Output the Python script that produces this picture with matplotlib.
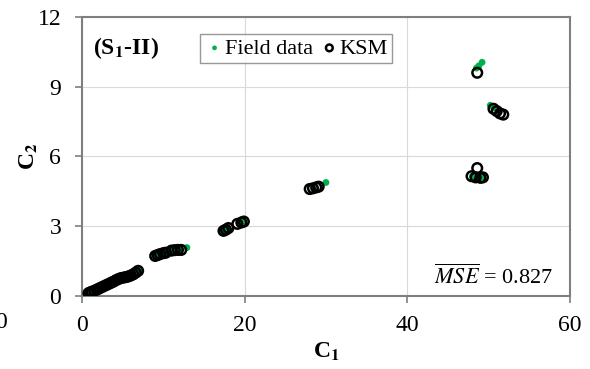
import numpy as np
import matplotlib.pyplot as plt

plt.rcParams['font.family'] = ['Liberation Serif', 'DejaVu Serif']
plt.rcParams['mathtext.fontset'] = 'stix'

# Field data (C1, C2)
field_c1 = [0.8, 1.0, 1.2, 1.5, 1.8, 2.1, 2.4, 2.7, 3.0, 3.3, 3.6, 3.9, 4.2, 4.5,
            4.8, 5.1, 5.4, 5.7, 6.0, 6.3, 6.6, 7.0,
            9.0, 9.3, 9.6, 10.0, 10.3, 11.2, 11.6, 12.0, 12.9,
            17.2, 17.5, 17.9, 19.3, 19.8,
            28.5, 30.0,
            48.5, 48.8, 49.2, 50.2, 50.6,
            48.0, 48.6, 49.2]
field_c2 = [0.12, 0.15, 0.18, 0.22, 0.27, 0.32, 0.37, 0.42, 0.47, 0.52, 0.57, 0.62, 0.68, 0.73,
            0.77, 0.79, 0.81, 0.84, 0.88, 0.93, 1.0, 1.1,
            1.72, 1.76, 1.8, 1.84, 1.86, 1.95, 1.97, 2.0, 2.08,
            2.78, 2.82, 2.9, 3.12, 3.2,
            4.6, 4.88,
            9.8, 9.9, 10.05, 8.2, 8.1,
            5.15, 5.1, 5.1]

# KSM estimates (C1, C2)
ksm_c1 = [0.8, 1.0, 1.2, 1.5, 1.8, 2.1, 2.4, 2.7, 3.0, 3.3, 3.6, 3.9, 4.2, 4.5,
          4.8, 5.1, 5.4, 5.7, 6.0, 6.3, 6.6, 6.9,
          9.0, 9.3, 9.6, 10.0, 10.3, 11.0, 11.4, 11.8, 12.2,
          17.4, 17.7, 18.0, 19.1, 19.6, 19.9,
          28.0, 28.4, 28.8, 29.1,
          48.6, 50.6, 51.0, 51.4, 51.8,
          47.9, 48.4, 48.6, 49.0, 49.3]
ksm_c2 = [0.12, 0.15, 0.18, 0.22, 0.27, 0.32, 0.37, 0.42, 0.47, 0.52, 0.57, 0.62, 0.68, 0.73,
          0.77, 0.79, 0.81, 0.84, 0.88, 0.93, 1.0, 1.08,
          1.72, 1.76, 1.8, 1.84, 1.86, 1.95, 1.97, 1.98, 1.98,
          2.8, 2.85, 2.92, 3.1, 3.16, 3.2,
          4.6, 4.63, 4.67, 4.7,
          9.6, 8.05, 7.95, 7.85, 7.8,
          5.15, 5.1, 5.5, 5.08, 5.1]

mse_text = r'$\overline{MSE}$ = 0.827'

fig = plt.figure(figsize=(5.9, 3.69), dpi=100)
ax = fig.add_axes([0.139, 0.198, 0.827, 0.756])

ax.scatter(field_c1, field_c2, s=24, color='#00b050', edgecolors='none',
           label='Field data', zorder=3)
ax.scatter(ksm_c1, ksm_c2, s=48, facecolors='none', edgecolors='black',
           linewidths=1.8, label='KSM', zorder=4)

ax.set_xlim(0, 60)
ax.set_ylim(0, 12)
ax.set_xticks([0, 20, 40, 60])
ax.set_yticks([0, 3, 6, 9, 12])
ax.grid(True, color='#d9d9d9', linewidth=0.8)
ax.set_axisbelow(True)
for s in ax.spines.values():
    s.set_color('#7f7f7f')
    s.set_linewidth(1.5)
ax.tick_params(axis='both', direction='out', length=5, width=1.2, color='#7f7f7f',
               labelsize=17)
ax.tick_params(axis='x', pad=9)
ax.tick_params(axis='y', pad=10)

ax.set_xlabel(r'C$_\mathbf{1}$', fontsize=17, fontweight='bold', labelpad=3)
ax.set_ylabel(r'C$_\mathbf{2}$', fontsize=17, fontweight='bold', labelpad=-2)

ax.text(0.023, 0.935, r'(S$_\mathbf{1}$-II)', transform=ax.transAxes,
        fontsize=17, fontweight='bold', va='top', ha='left')
ax.text(0.965, 0.07, mse_text, transform=ax.transAxes, fontsize=16,
        ha='right', va='center')

leg = ax.legend(loc='upper left', bbox_to_anchor=(0.242, 0.94), ncol=2,
                fontsize=16, frameon=True, fancybox=False, handletextpad=0.0,
                columnspacing=0.3, borderpad=0.2, handlelength=0.9,
                borderaxespad=0, markerscale=0.7)
leg.get_frame().set_edgecolor('#7f7f7f')
leg.get_frame().set_linewidth(1.0)

# stray tick label cut at left edge
fig.text(-0.008, 0.127, '0', fontsize=17, ha='left', va='center')

fig.savefig('out.png', dpi=100)
